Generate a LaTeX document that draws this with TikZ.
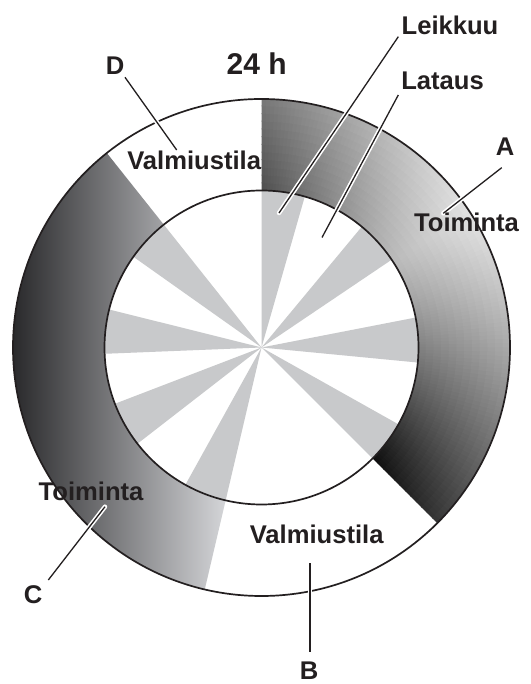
\documentclass[tikz,border=0pt]{standalone}
\usepackage{fontspec}
\setmainfont{Liberation Sans}
\definecolor{ink}{HTML}{231F20}
\definecolor{wedgegray}{RGB}{200,201,203}
\definecolor{cleft}{RGB}{40,40,42}
\definecolor{cright}{RGB}{214,215,218}
\begin{document}
\begin{tikzpicture}[x=1pt,y=1pt,
  lbl/.style={text=ink, font=\fontsize{25.6}{30}\selectfont\bfseries, inner sep=0pt, anchor=base},
  biglbl/.style={lbl, font=\fontsize{30}{34}\selectfont\bfseries},
  leader/.style={ink, line width=1.3pt, preaction={draw, white, line width=4.5pt, line cap=round}},
  ringline/.style={ink, line width=1.7pt}]
\useasboundingbox (0,0) rectangle (530,684);
\fill[white] (0,0) rectangle (530,684);
\coordinate (O) at (261.5,336.5);
\def\ri{157}
\def\ro{248.5}

% segment A (gradient, built from small patches)
\begin{scope}
\clip ([shift={(O)}]-45:\ri) -- ([shift={(O)}]-45:\ro) arc[start angle=-45,end angle=90,radius=\ro]
  -- ([shift={(O)}]90:\ri) arc[start angle=90,end angle=-45,radius=\ri] -- cycle;
\foreach \aa in {-45,-44,...,89}{
  \foreach \kk in {0,...,11}{
    \pgfmathsetmacro\rra{\ri+\kk*7.7-0.5}
    \pgfmathsetmacro\rrb{\ri+\kk*7.7+8.2}
    \pgfmathsetmacro\rrm{\ri+\kk*7.7+3.85}
    \pgfmathsetmacro\aend{\aa+1.25}
    \pgfmathsetmacro\amid{\aa+0.5}
    \pgfmathsetmacro\adist{abs(\amid-33)+0.01}
    \pgfmathsetmacro\fval{207-(\amid>=33 ? 107*(\adist/57)^1.3 : 172*(\adist/78)^1.3)+0.45*(\rrm-205)}
    \pgfmathtruncatemacro\gval{max(0,min(255,\fval))}
    \definecolor{patchcol}{RGB}{\gval,\gval,\gval}
    \fill[patchcol] ([shift={(O)}]\aa:\rra) -- ([shift={(O)}]\aa:\rrb) arc[start angle=\aa,end angle=\aend,radius=\rrb]
      -- ([shift={(O)}]\aend:\rra) arc[start angle=\aend,end angle=\aa,radius=\rra] -- cycle;
  }
}
\end{scope}

% segment C
\begin{scope}
\clip ([shift={(O)}]128.5:\ri) -- ([shift={(O)}]128.5:\ro) arc[start angle=128.5,end angle=256.8,radius=\ro]
  -- ([shift={(O)}]256.8:\ri) arc[start angle=256.8,end angle=128.5,radius=\ri] -- cycle;
\shade[left color=cleft, right color=cright] (11,80) rectangle (228,600);
\end{scope}

% wedges
\foreach \ws/\we in {74/90, 34/50.3, -5.5/11, -45/-29.3, 241/256.8, 201/217.8, 166/182.3, 128.5/144.7}
  \fill[wedgegray] (O) -- ([shift={(O)}]\ws:\ri) arc[start angle=\ws,end angle=\we,radius=\ri] -- cycle;

% circles
\draw[ringline] (O) circle[radius=\ro];
\draw[ringline] (O) circle[radius=\ri];

% leader end points
\coordinate (lk1) at (398.3,647.3); \coordinate (lk2) at (279,471);
\coordinate (la1) at (398.3,589);   \coordinate (la2) at (322,446.5);
\coordinate (a1) at (501.7,516.3);  \coordinate (a2) at (443.3,470.7);
\coordinate (d1) at (125,606.7);    \coordinate (d2) at (176.7,534);
\coordinate (c1) at (105,177.3);    \coordinate (c2) at (48.3,104);
\coordinate (b1) at (310,120.7);    \coordinate (b2) at (310,31.5);

\draw[leader] (lk1) -- (lk2);
\draw[leader] (la1) -- (la2);
\draw[leader] (a1) -- (a2);
\draw[leader] (d1) -- (d2);
\draw[leader] (c1) -- (c2);
\draw[leader] (b1) -- (b2);

% labels
\node[biglbl] (h24) at (256.7,609) {24 h};
\node[lbl] (dlab) at (115,609) {D};
\node[lbl] (dtext) at (194.2,514.7) {Valmiustila};
\node[lbl] (leik) at (450,649.7) {Leikkuu};
\node[lbl] (lat) at (442.5,594) {Lataus};
\node[lbl] (alab) at (505,528) {A};
\node[lbl] (atext) at (466.5,452) {Toiminta};
\node[lbl] (ctext) at (91,183) {Toiminta};
\node[lbl] (clab) at (33,80.7) {C};
\node[lbl] (btext) at (316.7,140.7) {Valmiustila};
\node[lbl] (blab) at (309,5) {B};
\end{tikzpicture}
\end{document}
